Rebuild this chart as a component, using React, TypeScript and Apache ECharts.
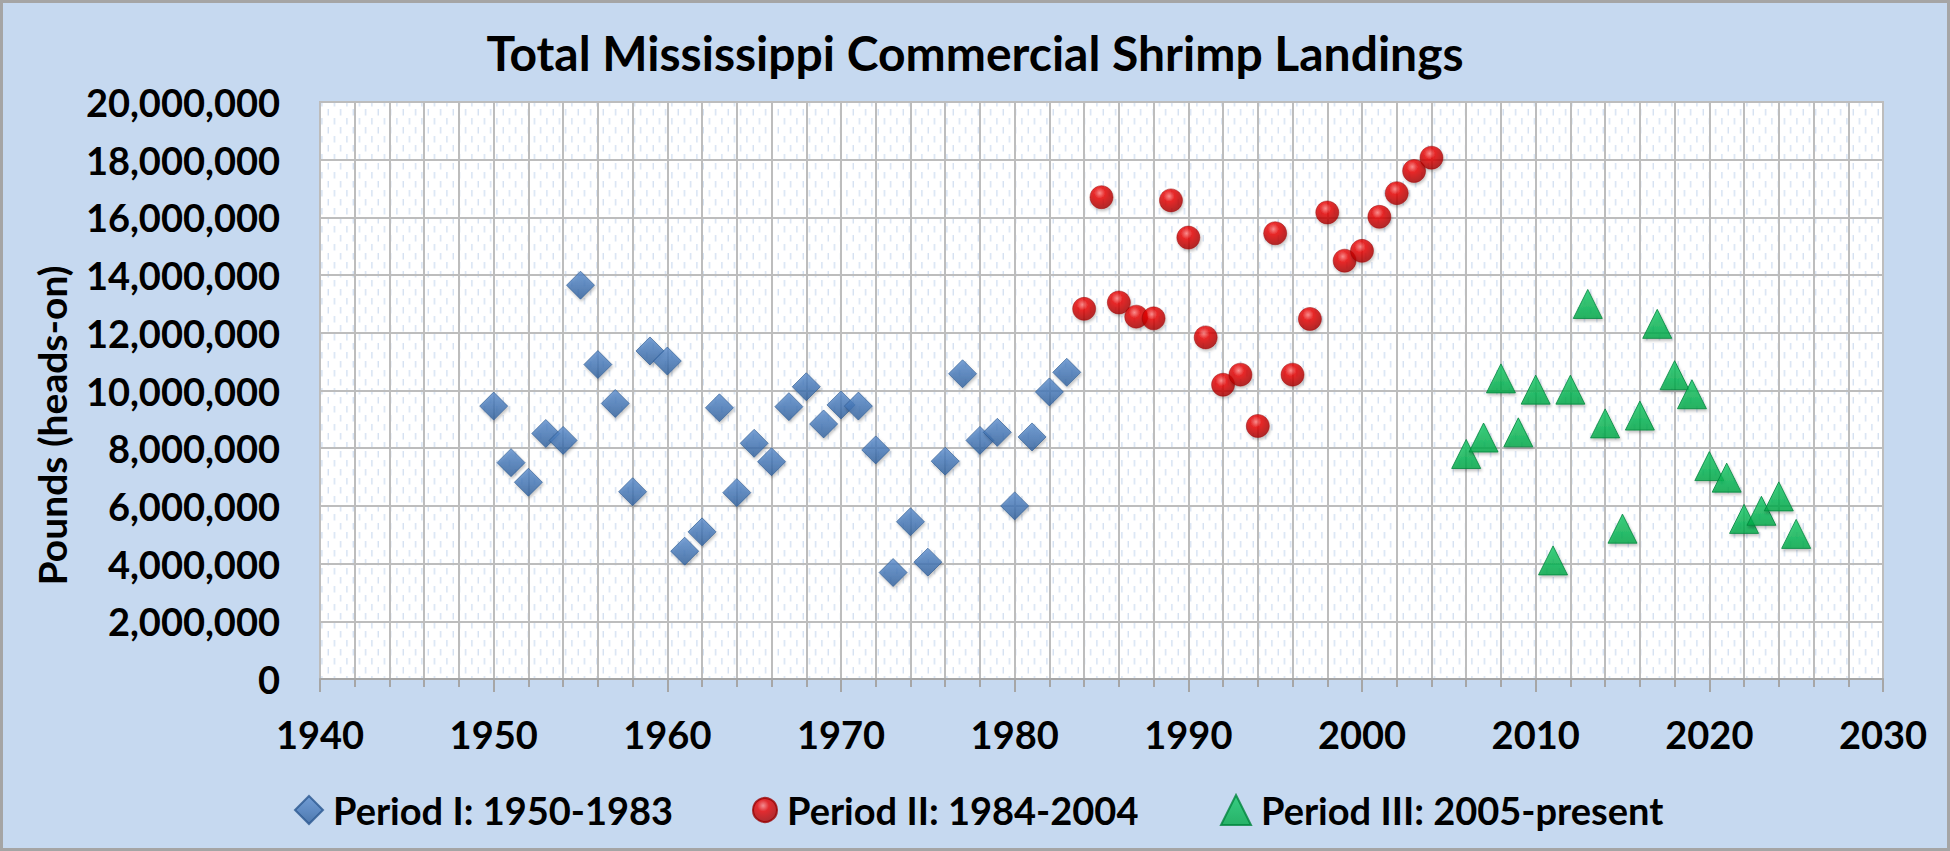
import React, { useEffect, useRef } from "react";
import * as echarts from "echarts";

const TITLE = "Total Mississippi Commercial Shrimp Landings";
const Y_AXIS_NAME = "Pounds (heads-on)";
const SERIES_NAMES = ["Period I: 1950-1983", "Period II: 1984-2004", "Period III: 2005-present"];

const period1Years = [
  1950, 1951, 1952, 1953, 1954, 1955, 1956, 1957, 1958, 1959, 1960, 1961,
  1962, 1963, 1964, 1965, 1966, 1967, 1968, 1969, 1970, 1971, 1972, 1973,
  1974, 1975, 1976, 1977, 1978, 1979, 1980, 1981, 1982, 1983,
];
const period1Pounds = [
  9460000, 7500000, 6820000, 8510000, 8270000, 13650000, 10900000, 9550000,
  6490000, 11370000, 11020000, 4430000, 5100000, 9400000, 6460000, 8170000,
  7530000, 9440000, 10130000, 8840000, 9500000, 9460000, 7940000, 3690000,
  5450000, 4050000, 7550000, 10580000, 8270000, 8550000, 6000000, 8390000,
  9950000, 10630000,
];

const period2Years = [
  1984, 1985, 1986, 1987, 1988, 1989, 1990, 1991, 1992, 1993, 1994, 1995,
  1996, 1997, 1998, 1999, 2000, 2001, 2002, 2003, 2004,
];
const period2Pounds = [
  12830000, 16700000, 13050000, 12560000, 12500000, 16590000, 15300000,
  11840000, 10200000, 10550000, 8770000, 15450000, 10550000, 12480000,
  16170000, 14500000, 14840000, 16020000, 16840000, 17610000, 18070000,
];

const period3Years = [
  2006, 2007, 2008, 2009, 2010, 2011, 2012, 2013, 2014, 2015, 2016, 2017,
  2018, 2019, 2020, 2021, 2022, 2023, 2024, 2025,
];
const period3Pounds = [
  7800000, 8370000, 10420000, 8550000, 10030000, 4110000, 10030000, 13000000,
  8860000, 5210000, 9130000, 12310000, 10530000, 9870000, 7380000, 6980000,
  5550000, 5830000, 6330000, 5030000,
];

const X_MIN = 1940;
const X_MAX = 2030;
const X_STEP = 10;
const Y_MIN = 0;
const Y_MAX = 20000000;
const Y_STEP = 2000000;

const FONT = "Lato, 'Open Sans', 'Noto Sans', sans-serif";

function pairs(xs: number[], ys: number[]) {
  return xs.map((x, i) => [x, ys[i]]);
}

const patternSvg =
  "<svg xmlns='http://www.w3.org/2000/svg' width='12.5' height='18'>" +
  "<rect width='12.5' height='18' fill='#ffffff'/>" +
  "<rect x='2.6' y='1' width='1.2' height='6.5' fill='#cddcf0'/>" +
  "<rect x='8.85' y='10' width='1.2' height='6.5' fill='#cddcf0'/>" +
  "</svg>";
const patternUrl = "data:image/svg+xml;charset=utf-8," + encodeURIComponent(patternSvg);

export default function App() {
  const ref = useRef<HTMLDivElement>(null);

  useEffect(() => {
    if (!ref.current) return;
    const chart = echarts.init(ref.current, undefined, { renderer: "svg" });

    const gridColor = "#BDBDBD";
    const shadow = {
      shadowBlur: 3,
      shadowOffsetX: 1,
      shadowOffsetY: 2,
      shadowColor: "rgba(0,0,0,0.3)",
    };

    const blue = new echarts.graphic.LinearGradient(0, 0, 0, 1, [
      { offset: 0, color: "#5B8DCD" },
      { offset: 0.5, color: "#4678B8" },
      { offset: 1, color: "#30609C" },
    ]);
    const red = new echarts.graphic.RadialGradient(0.42, 0.32, 0.7, [
      { offset: 0, color: "#FF7A7A" },
      { offset: 0.35, color: "#E80000" },
      { offset: 1, color: "#A30000" },
    ]);
    const green = new echarts.graphic.LinearGradient(0, 0, 0, 1, [
      { offset: 0, color: "#14CA68" },
      { offset: 1, color: "#00A846" },
    ]);

    const labelStyle = {
      fontFamily: FONT,
      fontSize: 38,
      fontWeight: "bold",
      color: "#000",
    };

    const option: any = {
      animation: false,
      backgroundColor: "#C6D9F0",
      textStyle: { fontFamily: FONT },
      title: {
        text: TITLE,
        left: "center",
        top: 23,
        textStyle: {
          fontFamily: FONT,
          fontSize: 48,
          fontWeight: "bold",
          color: "#000",
        },
      },
      grid: {
        left: 320,
        right: 67,
        top: 102,
        bottom: 172,
        show: true,
        backgroundColor: {
          image: patternUrl,
          repeat: "repeat",
          imageWidth: 12.5,
          imageHeight: 18,
        },
        borderColor: gridColor,
        borderWidth: 2,
      },
      legend: SERIES_NAMES.map((name, i) => ({
        data: [name],
        left: [289, 747, 1215][i],
        top: 786,
        itemWidth: [28, 24, 30][i],
        itemHeight: [28, 24, 30][i],
        textStyle: { ...labelStyle, padding: [0, 0, 0, 5] },
      })),
      xAxis: {
        type: "value",
        min: X_MIN,
        max: X_MAX,
        interval: X_STEP,
        axisLine: { show: true, lineStyle: { color: "#A6A6A6", width: 2 } },
        axisTick: { show: true, length: 13, lineStyle: { color: "#A6A6A6", width: 2 } },
        minorTick: { show: true, splitNumber: 5, length: 8, lineStyle: { color: "#A6A6A6", width: 2 } },
        splitLine: { show: true, lineStyle: { color: gridColor, width: 2 } },
        minorSplitLine: { show: true, lineStyle: { color: gridColor, width: 2 } },
        axisLabel: {
          ...labelStyle,
          margin: 36,
          formatter: (v: number) => String(v),
        },
      },
      yAxis: {
        type: "value",
        min: Y_MIN,
        max: Y_MAX,
        interval: Y_STEP,
        name: Y_AXIS_NAME,
        nameLocation: "middle",
        nameRotate: 90,
        nameGap: 249,
        nameTextStyle: { ...labelStyle, fontSize: 39, padding: [0, 70, 0, 0] },
        axisLine: { show: true, lineStyle: { color: gridColor, width: 2 } },
        axisTick: { show: false },
        splitLine: { show: true, lineStyle: { color: gridColor, width: 2 } },
        axisLabel: {
          ...labelStyle,
          margin: 40,
          formatter: (v: number) => v.toLocaleString("en-US"),
        },
      },
      series: [
        {
          name: SERIES_NAMES[0],
          type: "scatter",
          symbol: "diamond",
          symbolSize: 28,
          data: pairs(period1Years, period1Pounds),
          itemStyle: { color: blue, borderColor: "#2B5890", borderWidth: 0.8, ...shadow },
        },
        {
          name: SERIES_NAMES[1],
          type: "scatter",
          symbol: "circle",
          symbolSize: 23,
          data: pairs(period2Years, period2Pounds),
          itemStyle: { color: red, borderColor: "#9A0000", borderWidth: 0.6, ...shadow },
        },
        {
          name: SERIES_NAMES[2],
          type: "scatter",
          symbol: "triangle",
          symbolSize: 29,
          data: pairs(period3Years, period3Pounds),
          itemStyle: { color: green, borderColor: "#00853C", borderWidth: 1, ...shadow },
        },
      ],
      graphic: [
        {
          type: "rect",
          silent: true,
          z: 100,
          shape: { x: 1.5, y: 1.5, width: 1947, height: 848 },
          style: { fill: "none", stroke: "#A5A5A5", lineWidth: 3 },
        },
      ],
    };

    chart.setOption(option);
    return () => chart.dispose();
  }, []);

  return (
    <div
      ref={ref}
      style={{ position: "fixed", left: 0, top: 0, width: 1950, height: 851 }}
    />
  );
}
